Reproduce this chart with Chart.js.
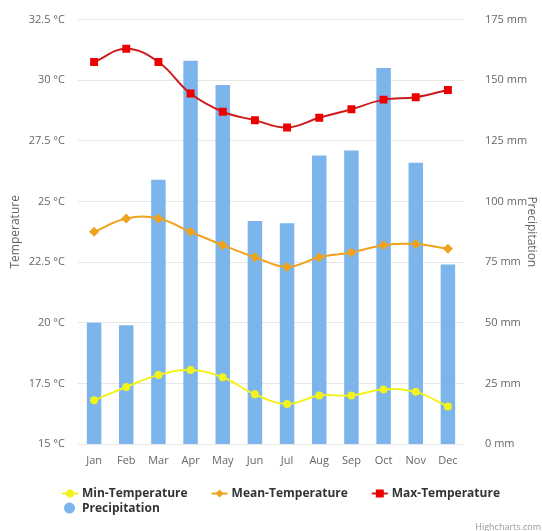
<!DOCTYPE html>
<html>
<head>
<meta charset="utf-8">
<script src="https://cdn.jsdelivr.net/npm/chart.js@4/dist/chart.umd.min.js"></script>
<style>
  html, body { margin: 0; padding: 0; background: #fff; }
  #wrap { width: 542px; height: 531px; }
</style>
</head>
<body>
<div id="wrap"><canvas id="climateChart" width="542" height="531"></canvas></div>
<script>
// chart data
const months = ["Jan", "Feb", "Mar", "Apr", "May", "Jun", "Jul", "Aug", "Sep", "Oct", "Nov", "Dec"];
const minTemp = [16.8, 17.35, 17.85, 18.05, 17.75, 17.05, 16.65, 17.0, 17.0, 17.25, 17.15, 16.55];
const meanTemp = [23.75, 24.3, 24.3, 23.75, 23.2, 22.7, 22.3, 22.7, 22.9, 23.2, 23.25, 23.05];
const maxTemp = [30.75, 31.3, 30.75, 29.45, 28.7, 28.35, 28.05, 28.45, 28.8, 29.2, 29.3, 29.6];
const precipitation = [50, 49, 109, 158, 148, 92, 91, 119, 121, 155, 116, 74];
const tempTicks = [15, 17.5, 20, 22.5, 25, 27.5, 30, 32.5];
const rainTicks = [0, 25, 50, 75, 100, 125, 150, 175];

const FONT = '"Open Sans", "DejaVu Sans", sans-serif';

// legend drawn like the highcharts one (second row starts left, not centered)
const legendPlugin = {
    id: "hcLegend",
    afterDraw(chart) {
        const ctx = chart.ctx;
        ctx.save();
        ctx.font = "bold 12px " + FONT;
        ctx.textBaseline = "middle";
        ctx.fillStyle = "#333333";
        let x = 62;
        let y = 493.5;
        chart.data.datasets.forEach((ds) => {
            if (ds.type === "bar") {
                x = 62;
                y = 508;
                ctx.fillStyle = ds.backgroundColor;
                ctx.beginPath();
                ctx.arc(x + 7.5, y, 5.5, 0, Math.PI * 2);
                ctx.fill();
            } else {
                ctx.strokeStyle = ds.borderColor;
                ctx.lineWidth = 2;
                ctx.beginPath();
                ctx.moveTo(x, y);
                ctx.lineTo(x + 16, y);
                ctx.stroke();
                ctx.fillStyle = ds.pointBackgroundColor;
                drawMarker(ctx, ds.pointStyle, x + 8, y);
            }
            ctx.fillStyle = "#333333";
            ctx.fillText(ds.label, x + 20, y + 0.5);
            x += 20 + ctx.measureText(ds.label).width + 24;
        });
        // credit text
        ctx.font = "9px " + FONT;
        ctx.fillStyle = "#999999";
        ctx.textAlign = "right";
        ctx.fillText("Highcharts.com", 541, 527);
        ctx.restore();
    }
};

function drawMarker(ctx, style, cx, cy) {
    ctx.beginPath();
    if (style === "rect") {
        ctx.rect(cx - 4, cy - 4, 8, 8);
    } else if (style === "rectRot") {
        ctx.moveTo(cx, cy - 4);
        ctx.lineTo(cx + 4, cy);
        ctx.lineTo(cx, cy + 4);
        ctx.lineTo(cx - 4, cy);
        ctx.closePath();
    } else {
        ctx.arc(cx, cy, 4, 0, Math.PI * 2);
    }
    ctx.fill();
}

function lineSeries(label, data, line, marker, style, radius, order) {
    return {
        type: "line",
        label: label,
        data: data,
        yAxisID: "yTemp",
        borderColor: line,
        borderWidth: 2,
        backgroundColor: marker,
        pointBackgroundColor: marker,
        pointBorderColor: marker,
        pointBorderWidth: 0,
        pointStyle: style,
        pointRadius: radius,
        tension: 0.4,
        order: order
    };
}

const ctx = document.getElementById("climateChart");
new Chart(ctx, {
    data: {
        labels: months,
        datasets: [
            lineSeries("Min-Temperature", minTemp, "#f2f21c", "#f2f21c", "circle", 4, 3),
            lineSeries("Mean-Temperature", meanTemp, "#eea21e", "#eea21e", "rectRot", 5, 2),
            lineSeries("Max-Temperature", maxTemp, "#cc1b1b", "#ee0000", "rect", 5.6, 1),
            {
                type: "bar",
                label: "Precipitation",
                data: precipitation,
                yAxisID: "yRain",
                backgroundColor: "#7cb5ec",
                categoryPercentage: 1,
                barPercentage: 0.45,
                order: 10
            }
        ]
    },
    options: {
        responsive: false,
        animation: false,
        layout: { padding: { top: 15, bottom: 60, left: 0, right: 0 } },
        plugins: {
            legend: { display: false },
            tooltip: { enabled: false }
        },
        scales: {
            x: {
                grid: { display: false },
                border: { display: false },
                ticks: { color: "#666666", font: { family: FONT, size: 11 }, padding: 2 },
                afterFit: (s) => { s.height = 27; }
            },
            yTemp: {
                position: "left",
                min: 15,
                max: 32.5,
                afterBuildTicks: (s) => { s.ticks = tempTicks.map(v => ({ value: v })); },
                grid: { color: "#e6e6e6", drawTicks: false },
                border: { display: false },
                ticks: {
                    color: "#666666",
                    font: { family: FONT, size: 11 },
                    padding: 13,
                    callback: (v) => v + " °C"
                },
                title: {
                    display: true,
                    text: "Temperature",
                    color: "#666666",
                    font: { family: FONT, size: 12 },
                    padding: { top: 8, bottom: 0 }
                },
                afterFit: (s) => { s.width = 78; }
            },
            yRain: {
                position: "right",
                min: 0,
                max: 175,
                afterBuildTicks: (s) => { s.ticks = rainTicks.map(v => ({ value: v })); },
                grid: { display: false },
                border: { display: false },
                ticks: {
                    color: "#666666",
                    font: { family: FONT, size: 11 },
                    padding: 13,
                    callback: (v) => v + " mm"
                },
                title: {
                    display: true,
                    text: "Precipitation",
                    color: "#666666",
                    font: { family: FONT, size: 12 },
                    padding: { top: 3, bottom: 0 }
                },
                afterFit: (s) => { s.width = 78; }
            }
        }
    },
    plugins: [legendPlugin]
});
</script>
</body>
</html>
